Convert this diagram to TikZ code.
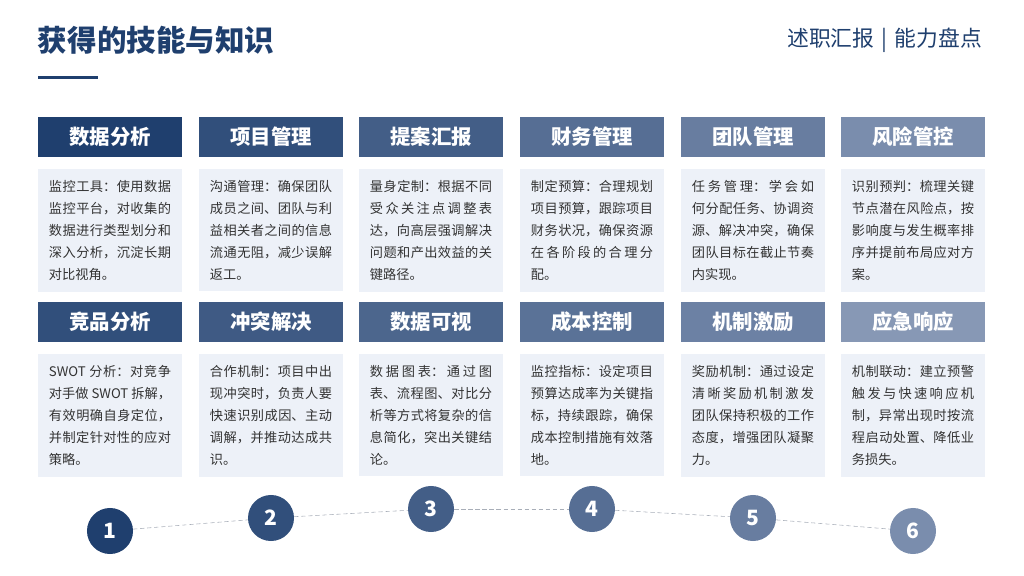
\documentclass[tikz,border=0pt]{standalone}
\usepackage{fontspec}
\setmainfont{Noto Sans CJK SC}
\XeTeXlinebreaklocale "zh"
\XeTeXlinebreakskip=0pt plus 1pt
\definecolor{navy}{HTML}{1F3F6E}
\definecolor{bodyfill}{HTML}{EDF1F8}
\definecolor{dashgray}{HTML}{A8AEB8}
\colorlet{h1}{navy}
\definecolor{h6}{HTML}{7A8DAD}
\tikzset{
    head/.style={fill=#1, text=white, minimum width=3.6cm, minimum height=1cm,
        font=\fontsize{14.5}{16}\selectfont\bfseries},
    body/.style={fill=bodyfill, anchor=north, text width=3.05cm, minimum height=3.02cm,
        inner sep=0.28cm, align=justify, text=black!80,
        font=\fontsize{9.4}{15.6}\selectfont},
    step/.style={circle, fill=#1, text=white, minimum size=1.15cm, inner sep=0pt,
        font=\fontsize{15}{17}\selectfont\bfseries}
}
\begin{document}
\begin{tikzpicture}[x=0.025cm, y=-0.025cm]
    \useasboundingbox (0,0) rectangle (1024,576);
    % title
    \node[anchor=west, text=navy, font=\fontsize{21}{23}\selectfont\bfseries] (title) at (33,40) {获得的技能与知识};
    \node[anchor=east, text=navy, font=\fontsize{15.5}{17}\selectfont] (tag) at (987,40) {述职汇报\,\,|\,\,能力盘点};
    \fill[navy] (38,76) rectangle (98,79);
    % headers
    \begin{scope}
        \node[head=h1] (H1) at (110,137) {数据分析};
        \node[head=h1!80!h6] (H2) at (271,137) {项目管理};
        \node[head=h1!60!h6] (H3) at (431,137) {提案汇报};
        \node[head=h1!40!h6] (H4) at (592,137) {财务管理};
        \node[head=h1!20!h6] (H5) at (753,137) {团队管理};
        \node[head=h6] (H6) at (913,137) {风险管控};
        \node[head=h1!80!h6] (H7) at (110,322) {竞品分析};
        \node[head=h1!65!h6] (H8) at (271,322) {冲突解决};
        \node[head=h1!50!h6] (H9) at (431,322) {数据可视};
        \node[head=h1!35!h6] (H10) at (592,322) {成本控制};
        \node[head=h1!15!h6] (H11) at (753,322) {机制激励};
        \node[head=h6!90!white] (H12) at (913,322) {应急响应};
    \end{scope}
    % descriptions
    \node[body] (B1) at (110,169) {监控工具：使用数据监控平台，对收集的数据进行类型划分和深入分析，沉淀长期对比视角。};
    \node[body] (B2) at (271,169) {沟通管理：确保团队成员之间、团队与利益相关者之间的信息流通无阻，减少误解返工。};
    \node[body] (B3) at (431,169) {量身定制：根据不同受众关注点调整表达，向高层强调解决问题和产出效益的关键路径。};
    \node[body] (B4) at (592,169) {制定预算：合理规划项目预算，跟踪项目财务状况，确保资源在各阶段的合理分配。};
    \node[body] (B5) at (753,169) {任务管理：学会如何分配任务、协调资源、解决冲突，确保团队目标在截止节奏内实现。};
    \node[body] (B6) at (913,169) {识别预判：梳理关键节点潜在风险点，按影响度与发生概率排序并提前布局应对方案。};
    \node[body] (B7) at (110,354) {SWOT 分析：对竞争对手做 SWOT 拆解，有效明确自身定位，并制定针对性的应对策略。};
    \node[body] (B8) at (271,354) {合作机制：项目中出现冲突时，负责人要快速识别成因、主动调解，并推动达成共识。};
    \node[body] (B9) at (431,354) {数据图表：通过图表、流程图、对比分析等方式将复杂的信息简化，突出关键结论。};
    \node[body] (B10) at (592,354) {监控指标：设定项目预算达成率为关键指标，持续跟踪，确保成本控制措施有效落地。};
    \node[body] (B11) at (753,354) {奖励机制：通过设定清晰奖励机制激发团队保持积极的工作态度，增强团队凝聚力。};
    \node[body] (B12) at (913,354) {机制联动：建立预警触发与快速响应机制，异常出现时按流程启动处置、降低业务损失。};
    % steps
    \node[step=h1] (S1) at (110,531) {1};
    \node[step=h1!80!h6] (S2) at (271,518) {2};
    \node[step=h1!60!h6] (S3) at (431,509) {3};
    \node[step=h1!40!h6] (S4) at (592,509) {4};
    \node[step=h1!20!h6] (S5) at (753,518) {5};
    \node[step=h6] (S6) at (913,531) {6};
    \foreach \a/\b in {S1/S2,S2/S3,S3/S4,S4/S5,S5/S6}
        \draw[dashgray, densely dashed] (\a) -- (\b);
\end{tikzpicture}
\end{document}
